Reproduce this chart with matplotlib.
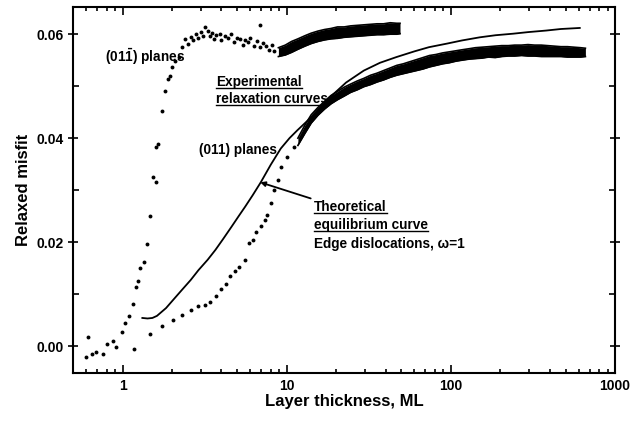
import numpy as np
import matplotlib
matplotlib.use("Agg")
import matplotlib.pyplot as plt
from matplotlib.lines import Line2D

plt.rcParams["font.family"] = ["Liberation Sans", "DejaVu Sans"]
plt.rcParams["mathtext.fontset"] = "custom"
plt.rcParams["mathtext.rm"] = "Liberation Sans"
plt.rcParams["mathtext.bf"] = "Liberation Sans:bold"

# (01-1) planes: sparse points
x_perp = [0.60, 0.62, 0.65, 0.69, 0.76, 0.80, 0.87, 0.91, 0.99, 1.03, 1.10, 1.15, 1.18,
          1.21, 1.25, 1.28, 1.36, 1.41, 1.47, 1.54, 1.60, 1.60, 1.65, 1.74, 1.81, 1.89,
          1.94, 1.99, 2.1, 2.2, 2.3, 2.4, 2.5, 2.6, 2.7, 2.8, 2.9, 3.0, 3.1, 3.2, 3.3,
          3.4, 3.5, 3.6, 3.7, 3.9, 4.0, 4.2, 4.4, 4.6, 4.8, 5.0, 5.2, 5.4, 5.6, 5.8,
          6.0, 6.3, 6.6, 6.9, 6.9, 7.2, 7.5, 7.8, 8.1, 8.4]
y_perp = [-0.0021, 0.0017, -0.0015, -0.0012, -0.0015, 0.0004, 0.0010, -0.0002, 0.0027,
          0.0044, 0.0058, 0.0081, -0.0006, 0.0113, 0.0125, 0.0150, 0.0162, 0.0196,
          0.0250, 0.0325, 0.0315, 0.0383, 0.0388, 0.0452, 0.0490, 0.0513, 0.0520,
          0.0537, 0.0548, 0.0556, 0.0575, 0.0590, 0.0582, 0.0594, 0.0588, 0.0600,
          0.0592, 0.0604, 0.0597, 0.0613, 0.0607, 0.0596, 0.0602, 0.0590, 0.0598,
          0.0601, 0.0588, 0.0596, 0.0593, 0.0600, 0.0585, 0.0592, 0.0590, 0.0580,
          0.0588, 0.0585, 0.0592, 0.0578, 0.0587, 0.0575, 0.0617, 0.0583, 0.0577,
          0.0570, 0.0579, 0.0568]
# (01-1) planes: dense band
x_perp_band = [8.9, 9.8, 10.7, 11.7, 12.9, 14.1, 15.5, 17.0, 18.6, 20.4, 22.4, 24.5,
               26.9, 29.5, 32.4, 35.5, 38.9, 42.7, 46.8, 49.0]
y_perp_hi = [0.0574, 0.0579, 0.0586, 0.0591, 0.0597, 0.0602, 0.0606, 0.0609, 0.0611,
             0.0614, 0.0614, 0.0616, 0.0617, 0.0618, 0.0619, 0.0620, 0.0620, 0.0622,
             0.0621, 0.0621]
y_perp_lo = [0.0557, 0.0560, 0.0565, 0.0571, 0.0577, 0.0582, 0.0586, 0.0589, 0.0591,
             0.0592, 0.0594, 0.0595, 0.0596, 0.0597, 0.0598, 0.0599, 0.0599, 0.0600,
             0.0600, 0.0601]

# (011) planes: sparse points
x_par = [1.47, 1.74, 2.03, 2.3, 2.6, 2.87, 3.16, 3.43, 3.69, 4.0, 4.29, 4.54, 4.86,
         5.14, 5.58, 5.9, 6.2, 6.5, 6.95, 7.4, 7.6, 8.0, 8.4, 8.8, 9.2, 10.0, 11.1]
y_par = [0.0023, 0.0038, 0.0050, 0.0060, 0.0069, 0.0077, 0.0079, 0.0085, 0.0096,
         0.0110, 0.0119, 0.0135, 0.0144, 0.0152, 0.0165, 0.0198, 0.0204, 0.0219,
         0.0231, 0.0242, 0.0252, 0.0275, 0.0300, 0.0320, 0.0344, 0.0363, 0.0383]
# (011) planes: dense band
x_par_band = [11.7, 12.9, 14.1, 15.5, 17.0, 18.6, 20.4, 22.4, 24.5, 26.9, 29.5, 32.4,
              35.5, 38.9, 42.7, 46.8, 51.3, 56.2, 61.7, 67.6, 74.1, 81.3, 89.1, 97.7,
              107, 117, 129, 141, 155, 170, 186, 204, 224, 245, 269, 295, 324, 355,
              389, 427, 468, 513, 562, 617, 660]
y_par_hi = [0.0400, 0.0425, 0.0445, 0.0459, 0.0471, 0.0482, 0.0490, 0.0498, 0.0504,
            0.0510, 0.0515, 0.0521, 0.0525, 0.0530, 0.0535, 0.0540, 0.0543, 0.0547,
            0.0551, 0.0555, 0.0559, 0.0561, 0.0564, 0.0566, 0.0568, 0.0570, 0.0572,
            0.0574, 0.0575, 0.0576, 0.0577, 0.0578, 0.0578, 0.0579, 0.0579, 0.0580,
            0.0579, 0.0579, 0.0578, 0.0577, 0.0576, 0.0576, 0.0575, 0.0574, 0.0573]
y_par_lo = [0.0386, 0.0409, 0.0429, 0.0444, 0.0456, 0.0466, 0.0474, 0.0481, 0.0488,
            0.0493, 0.0499, 0.0503, 0.0508, 0.0512, 0.0517, 0.0521, 0.0524, 0.0527,
            0.0530, 0.0533, 0.0537, 0.0540, 0.0543, 0.0545, 0.0548, 0.0550, 0.0552,
            0.0553, 0.0554, 0.0556, 0.0555, 0.0557, 0.0558, 0.0558, 0.0559, 0.0558,
            0.0558, 0.0557, 0.0557, 0.0557, 0.0557, 0.0556, 0.0556, 0.0556, 0.0557]

# theoretical equilibrium curve
x_theory = [1.32, 1.42, 1.52, 1.62, 1.84, 2.05, 2.3, 2.6, 2.9, 3.3, 3.68, 4.1, 4.6,
            5.1, 5.58, 6.2, 6.95, 8.0, 9.2, 10.4, 11.6, 14.3, 18.4, 23, 29.5, 37,
            46.6, 60, 73.5, 95, 117, 150, 187, 240, 295, 380, 468, 610]
y_theory = [0.0054, 0.0053, 0.0054, 0.0058, 0.0073, 0.0090, 0.0108, 0.0127, 0.0146,
            0.0166, 0.0185, 0.0206, 0.0229, 0.0250, 0.0268, 0.0290, 0.0315, 0.0349,
            0.0380, 0.0400, 0.0415, 0.0442, 0.0479, 0.0507, 0.0530, 0.0545, 0.0556,
            0.0567, 0.0575, 0.0582, 0.0588, 0.0594, 0.0598, 0.0601, 0.0604, 0.0607,
            0.0610, 0.0612]

y_ticks = [0.00, 0.02, 0.04, 0.06]
x_ticks = [1, 10, 100, 1000]

fig = plt.figure(figsize=(6.36, 4.22), dpi=100)
ax = fig.add_axes([0.115, 0.116, 0.852, 0.867])

dot = dict(ls="none", marker="o", ms=2.8, color="black", mec="none")
ax.plot(x_perp, y_perp, **dot)
ax.plot(x_par, y_par, **dot)
for xb, lo, hi in [(x_perp_band, y_perp_lo, y_perp_hi), (x_par_band, y_par_lo, y_par_hi)]:
    ax.fill_between(xb, lo, hi, color="black", lw=0)
    ax.plot(xb, lo, color="black", lw=1.2)
    ax.plot(xb, hi, color="black", lw=1.2)
ax.plot(x_theory, y_theory, color="black", lw=1.3)

ax.set_xscale("log")
ax.set_xlim(0.5, 1000)
ax.set_ylim(-0.0052, 0.0652)
ax.set_xticks(x_ticks)
ax.set_xticklabels([str(t) for t in x_ticks])
ax.set_yticks(y_ticks)
ax.set_yticklabels(["%.2f" % t for t in y_ticks])
ax.set_yticks([0.01, 0.03, 0.05], minor=True)
ax.tick_params(which="both", direction="in", top=True, right=True, width=1.2)
ax.tick_params(axis="x", which="major", length=6, labelsize=10, pad=4)
ax.tick_params(axis="x", which="minor", length=3)
ax.tick_params(axis="y", which="major", direction="inout", length=7, labelsize=10)
ax.tick_params(axis="y", which="minor", length=4)
for lab in ax.get_xticklabels() + ax.get_yticklabels():
    lab.set_fontweight("bold")
for sp in ax.spines.values():
    sp.set_linewidth(1.5)

ax.set_xlabel("Layer thickness, ML", fontsize=12, fontweight="bold", labelpad=1)
ax.set_ylabel("Relaxed misfit", fontsize=12, fontweight="bold", labelpad=4)

tkw = dict(fontsize=9.8, fontweight="bold", ha="left", va="center")
ax.text(0.78, 0.0556, r"(01$\mathbf{\bar{1}}$) planes", **tkw)
ax.text(2.91, 0.0377, "(011) planes", **tkw)
t1 = ax.text(3.73, 0.0508, "Experimental", **tkw)
t2 = ax.text(3.73, 0.0475, "relaxation curves", **tkw)
t3 = ax.text(14.7, 0.0268, "Theoretical", **tkw)
t4 = ax.text(14.7, 0.0232, "equilibrium curve", **tkw)
ax.text(14.7, 0.0196, "Edge dislocations, \u03c9=1", **tkw)

ax.annotate("", xy=(6.9, 0.0315), xytext=(14.0, 0.0284),
            arrowprops=dict(arrowstyle="-|>", color="black", lw=1.3,
                            mutation_scale=7, shrinkA=0, shrinkB=0))

# underline the titled labels
fig.canvas.draw()
r = fig.canvas.get_renderer()
inv = fig.transFigure.inverted()
for t in [t1, t2, t3, t4]:
    bb = t.get_window_extent(r)
    (x0, y0), (x1, _) = inv.transform([(bb.x0, bb.y0 + 1), (bb.x1, bb.y1)])
    fig.add_artist(Line2D([x0, x1], [y0, y0], color="black", lw=1.0))

fig.savefig("out.png", dpi=100)
